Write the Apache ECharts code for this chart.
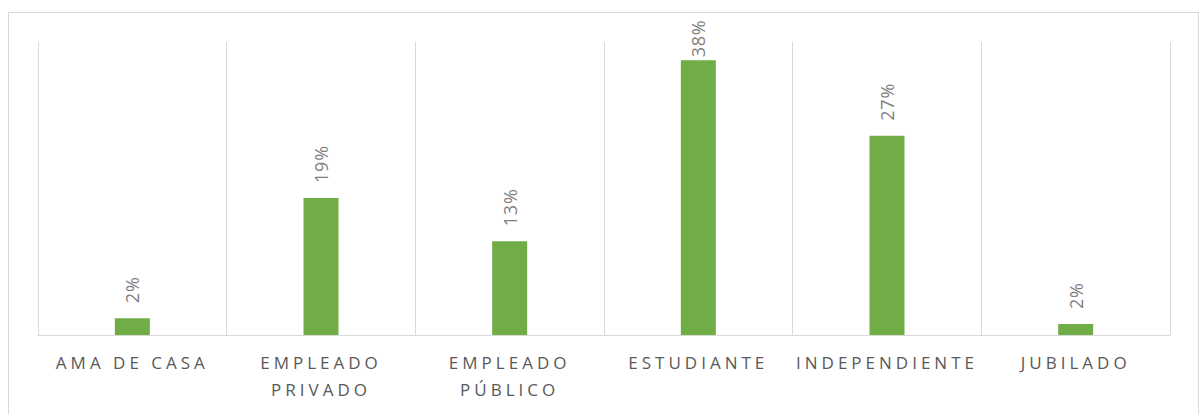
<!DOCTYPE html>
<html>
<head>
<meta charset="utf-8">
<script src="https://cdn.jsdelivr.net/npm/echarts@6/dist/echarts.min.js"></script>
<style>
  html, body { margin: 0; padding: 0; background: #fff; }
  #chart { width: 1204px; height: 414px; }
  #chart text[fill="#595959"] { letter-spacing: 4px; }
  #chart text[fill="#7f7f7f"] { letter-spacing: 0.8px; }
</style>
</head>
<body>
<div id="chart"></div>
<script>
// categorias y porcentajes
var categorias = ['AMA DE CASA', 'EMPLEADO\nPRIVADO', 'EMPLEADO\nPÚBLICO', 'ESTUDIANTE', 'INDEPENDIENTE', 'JUBILADO'];
var porcentajes = [2.3, 18.7, 12.8, 37.5, 27.2, 1.5];

var yMax = 40;

var myChart = echarts.init(document.getElementById('chart'), null, {renderer: 'svg'});

// la etiqueta de la barra más alta queda pegada (no cabe arriba)
var datos = porcentajes.map(function (v) {
    return {value: v, label: {distance: v > yMax - 5 ? 3 : 15}};
});

var option = {
    animation: false,
    graphic: [{
        type: 'rect',
        shape: {x: 8.5, y: 12.5, width: 1190, height: 430},
        style: {fill: 'none', stroke: '#d9d9d9', lineWidth: 1},
        silent: true
    }],
    grid: {
        left: 38,
        right: 34,
        top: 42,
        bottom: 79
    },
    xAxis: {
        type: 'category',
        data: categorias,
        axisLine: {lineStyle: {color: '#d9d9d9', width: 1}},
        axisTick: {show: false},
        splitLine: {show: true, interval: 0, lineStyle: {color: '#d9d9d9', width: 1}},
        axisLabel: {
            interval: 0,
            color: '#595959',
            fontFamily: 'Open Sans',
            fontSize: 17,
            lineHeight: 27,
            margin: 14
        }
    },
    yAxis: {
        type: 'value',
        min: 0,
        max: yMax,
        show: false,
        splitLine: {show: false}
    },
    series: [{
        type: 'bar',
        data: datos,
        barWidth: 35,
        itemStyle: {color: '#70ad47'},
        label: {
            show: true,
            position: 'top',
            rotate: 90,
            align: 'left',
            verticalAlign: 'middle',
            distance: 15,
            color: '#7f7f7f',
            fontFamily: 'Open Sans',
            fontSize: 18,
            formatter: function (p) { return Math.round(p.value) + '%'; }
        }
    }]
};

myChart.setOption(option);
</script>
</body>
</html>
